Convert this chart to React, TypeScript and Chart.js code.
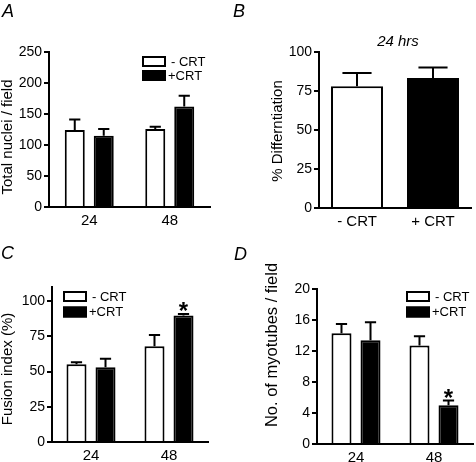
import React, { useEffect, useRef } from "react";
import { Chart, registerables } from "chart.js";

Chart.register(...registerables);

// ---------- data ----------
const timeCategories = ["24", "48"];
const treatmentCategories = ["- CRT", "+ CRT"];
const legendLabels = ["- CRT", "+CRT"];

// Panel A: total nuclei per field
const nucleiMinusCRT = [124, 126];
const nucleiMinusCRTErr = [17, 3.5];
const nucleiPlusCRT = [115, 162];
const nucleiPlusCRTErr = [11, 17.5];
const nucleiTicks = [0, 50, 100, 150, 200, 250];

// Panel B: % differentiation at 24 hrs
const differentiation = [78, 83.3];
const differentiationErr = [8.5, 6.7];
const differentiationTicks = [0, 25, 50, 75, 100];

// Panel C: fusion index (%)
const fusionMinusCRT = [55.2, 68];
const fusionMinusCRTErr = [1.4, 8];
const fusionPlusCRT = [53, 89.8];
const fusionPlusCRTErr = [6, 1];
const fusionPlusSignificant = [false, true];
const fusionTicks = [0, 25, 50, 75, 100];

// Panel D: number of myotubes per field
const myotubesMinusCRT = [14.3, 12.7];
const myotubesMinusCRTErr = [1.2, 1.2];
const myotubesPlusCRT = [13.4, 5.0];
const myotubesPlusCRTErr = [2.3, 0.6];
const myotubesPlusSignificant = [false, true];
const myotubeTicks = [0, 4, 8, 12, 16, 20];

// ---------- styling / layout ----------
const FONT = "'Liberation Sans', Arial, Helvetica, sans-serif";

type Series = { data: number[]; err: number[]; fill: string | string[]; star?: boolean[] };
type PanelSpec = {
  key: string;
  pos: [number, number, number, number];
  area: [number, number, number, number];
  labels: string[];
  series: Series[];
  yMax: number;
  yTicks: number[];
  letter: [string, number, number];
  yTitle: [string, number, number, number];
  subtitle?: [string, number, number];
  legend?: [number, number, number];
  catPct: number;
  barPct: number;
};

const panels: PanelSpec[] = [
  {
    key: "A",
    pos: [0, 0, 238, 231],
    area: [49, 52, 210, 207],
    labels: timeCategories,
    series: [
      { data: nucleiMinusCRT, err: nucleiMinusCRTErr, fill: "#ffffff" },
      { data: nucleiPlusCRT, err: nucleiPlusCRTErr, fill: "#000000" },
    ],
    yMax: 250,
    yTicks: nucleiTicks,
    letter: ["A", 2, 17],
    yTitle: ["Total nuclei / field", 8, 137, 15],
    legend: [142, 56, 70],
    catPct: 0.72,
    barPct: 0.69,
  },
  {
    key: "B",
    pos: [230, 0, 246, 231],
    area: [89, 52, 241, 208],
    labels: treatmentCategories,
    series: [{ data: differentiation, err: differentiationErr, fill: ["#ffffff", "#000000"] }],
    yMax: 100,
    yTicks: differentiationTicks,
    letter: ["B", 3, 17],
    yTitle: ["% Differntiation", 48, 131, 15],
    subtitle: ["24 hrs", 168, 46],
    catPct: 1,
    barPct: 0.684,
  },
  {
    key: "C",
    pos: [0, 231, 238, 231],
    area: [52, 56, 208, 211],
    labels: timeCategories,
    series: [
      { data: fusionMinusCRT, err: fusionMinusCRTErr, fill: "#ffffff" },
      { data: fusionPlusCRT, err: fusionPlusCRTErr, fill: "#000000", star: fusionPlusSignificant },
    ],
    yMax: 110,
    yTicks: fusionTicks,
    letter: ["C", 1, 28],
    yTitle: ["Fusion index (%)", 8, 138, 15],
    legend: [63, 60, 75.5],
    catPct: 0.744,
    barPct: 0.69,
  },
  {
    key: "D",
    pos: [230, 231, 246, 231],
    area: [87, 58, 243, 213],
    labels: timeCategories,
    series: [
      { data: myotubesMinusCRT, err: myotubesMinusCRTErr, fill: "#ffffff" },
      { data: myotubesPlusCRT, err: myotubesPlusCRTErr, fill: "#000000", star: myotubesPlusSignificant },
    ],
    yMax: 20,
    yTicks: myotubeTicks,
    letter: ["D", 4, 29],
    yTitle: ["No. of myotubes / field", 42, 114, 16.5],
    legend: [176, 60, 75.5],
    catPct: 0.744,
    barPct: 0.69,
  },
];

function makePlugin(p: PanelSpec) {
  return {
    id: "decor" + p.key,
    afterDatasetsDraw(chart: any) {
      const ctx = chart.ctx as CanvasRenderingContext2D;
      const yScale = chart.scales.y;
      ctx.save();
      ctx.strokeStyle = "#000";
      ctx.fillStyle = "#000";
      ctx.lineWidth = 2;
      p.series.forEach((s, di) => {
        const meta = chart.getDatasetMeta(di);
        meta.data.forEach((el: any, i: number) => {
          const top = yScale.getPixelForValue(s.data[i] + s.err[i]);
          const half = el.width * 0.28;
          ctx.beginPath();
          ctx.moveTo(el.x, el.y);
          ctx.lineTo(el.x, top);
          ctx.moveTo(el.x - half, top);
          ctx.lineTo(el.x + half, top);
          ctx.stroke();
          if (s.star && s.star[i]) {
            ctx.font = `bold 24px ${FONT}`;
            ctx.textAlign = "center";
            ctx.textBaseline = "alphabetic";
            const m = ctx.measureText("*");
            const descent = m.actualBoundingBoxDescent || -9;
            ctx.fillText("*", el.x, top - 3 - descent);
          }
        });
      });
      ctx.restore();
    },
    afterDraw(chart: any) {
      const ctx = chart.ctx as CanvasRenderingContext2D;
      ctx.save();
      ctx.fillStyle = "#000";
      ctx.strokeStyle = "#000";
      // panel letter
      ctx.font = `italic 18px ${FONT}`;
      ctx.textAlign = "left";
      ctx.textBaseline = "alphabetic";
      ctx.fillText(p.letter[0], p.letter[1], p.letter[2]);
      // subtitle
      if (p.subtitle) {
        ctx.font = `italic 15px ${FONT}`;
        ctx.textAlign = "center";
        ctx.fillText(p.subtitle[0], p.subtitle[1], p.subtitle[2]);
      }
      // y title
      ctx.save();
      ctx.translate(p.yTitle[1], p.yTitle[2]);
      ctx.rotate(-Math.PI / 2);
      ctx.font = `${p.yTitle[3]}px ${FONT}`;
      ctx.textAlign = "center";
      ctx.textBaseline = "middle";
      ctx.fillText(p.yTitle[0], 0, 0);
      ctx.restore();
      // legend
      if (p.legend) {
        const [lx, y1, y2] = p.legend;
        const bw = 24;
        const bh = 11;
        const rows: [number, string, string, number][] = [
          [y1, "#ffffff", legendLabels[0], 5],
          [y2, "#000000", legendLabels[1], 2],
        ];
        ctx.font = `13px ${FONT}`;
        ctx.textAlign = "left";
        ctx.textBaseline = "middle";
        ctx.lineWidth = 2;
        rows.forEach(([yy, fill, label, gap]) => {
          ctx.fillStyle = fill;
          ctx.fillRect(lx, yy, bw, bh);
          ctx.strokeRect(lx + 1, yy + 1, bw - 2, bh - 2);
          ctx.fillStyle = "#000";
          ctx.fillText(label, lx + bw + gap, yy + bh / 2 + 0.5);
        });
      }
      ctx.restore();
    },
  };
}

function PanelChart({ p }: { p: PanelSpec }) {
  const ref = useRef<HTMLCanvasElement | null>(null);
  useEffect(() => {
    if (!ref.current) return;
    const [, , W, H] = p.pos;
    const [l, t, r, b] = p.area;
    const chart = new Chart(ref.current, {
      type: "bar",
      data: {
        labels: p.labels,
        datasets: p.series.map((s) => ({
          data: s.data,
          backgroundColor: s.fill as any,
          borderColor: "#000",
          borderWidth: 2,
          borderSkipped: "start" as any,
          categoryPercentage: p.catPct,
          barPercentage: p.barPct,
        })),
      },
      options: {
        animation: false,
        responsive: false,
        devicePixelRatio: 1,
        events: [],
        layout: { padding: { left: 0, top: t, right: W - r, bottom: 0 } },
        plugins: { legend: { display: false }, tooltip: { enabled: false }, title: { display: false } },
        scales: {
          x: {
            type: "category",
            offset: true,
            grid: { display: false, drawTicks: false },
            border: { display: true, color: "#000", width: 2, z: 1 },
            ticks: { color: "#000", font: { family: FONT, size: 15 }, padding: 5 },
            afterFit: (s: any) => {
              s.height = H - b;
            },
          },
          y: {
            type: "linear",
            min: 0,
            max: p.yMax,
            grid: {
              display: true,
              drawOnChartArea: false,
              drawTicks: true,
              tickLength: 5,
              color: "#000",
              lineWidth: 2,
            },
            border: { display: true, color: "#000", width: 2, z: 1 },
            ticks: { color: "#000", font: { family: FONT, size: 14 }, padding: 2 },
            afterBuildTicks: (s: any) => {
              s.ticks = p.yTicks.map((v) => ({ value: v }));
            },
            afterFit: (s: any) => {
              s.width = l;
            },
          },
        },
      },
      plugins: [makePlugin(p)],
    } as any);
    return () => chart.destroy();
  }, [p]);
  const [x, y, w, h] = p.pos;
  return (
    <canvas
      ref={ref}
      width={w}
      height={h}
      style={{ position: "absolute", left: x, top: y, width: w, height: h }}
    />
  );
}

export default function App() {
  return (
    <div style={{ position: "absolute", left: 0, top: 0, width: 476, height: 462, background: "#fff" }}>
      {panels.map((p) => (
        <PanelChart key={p.key} p={p} />
      ))}
    </div>
  );
}
